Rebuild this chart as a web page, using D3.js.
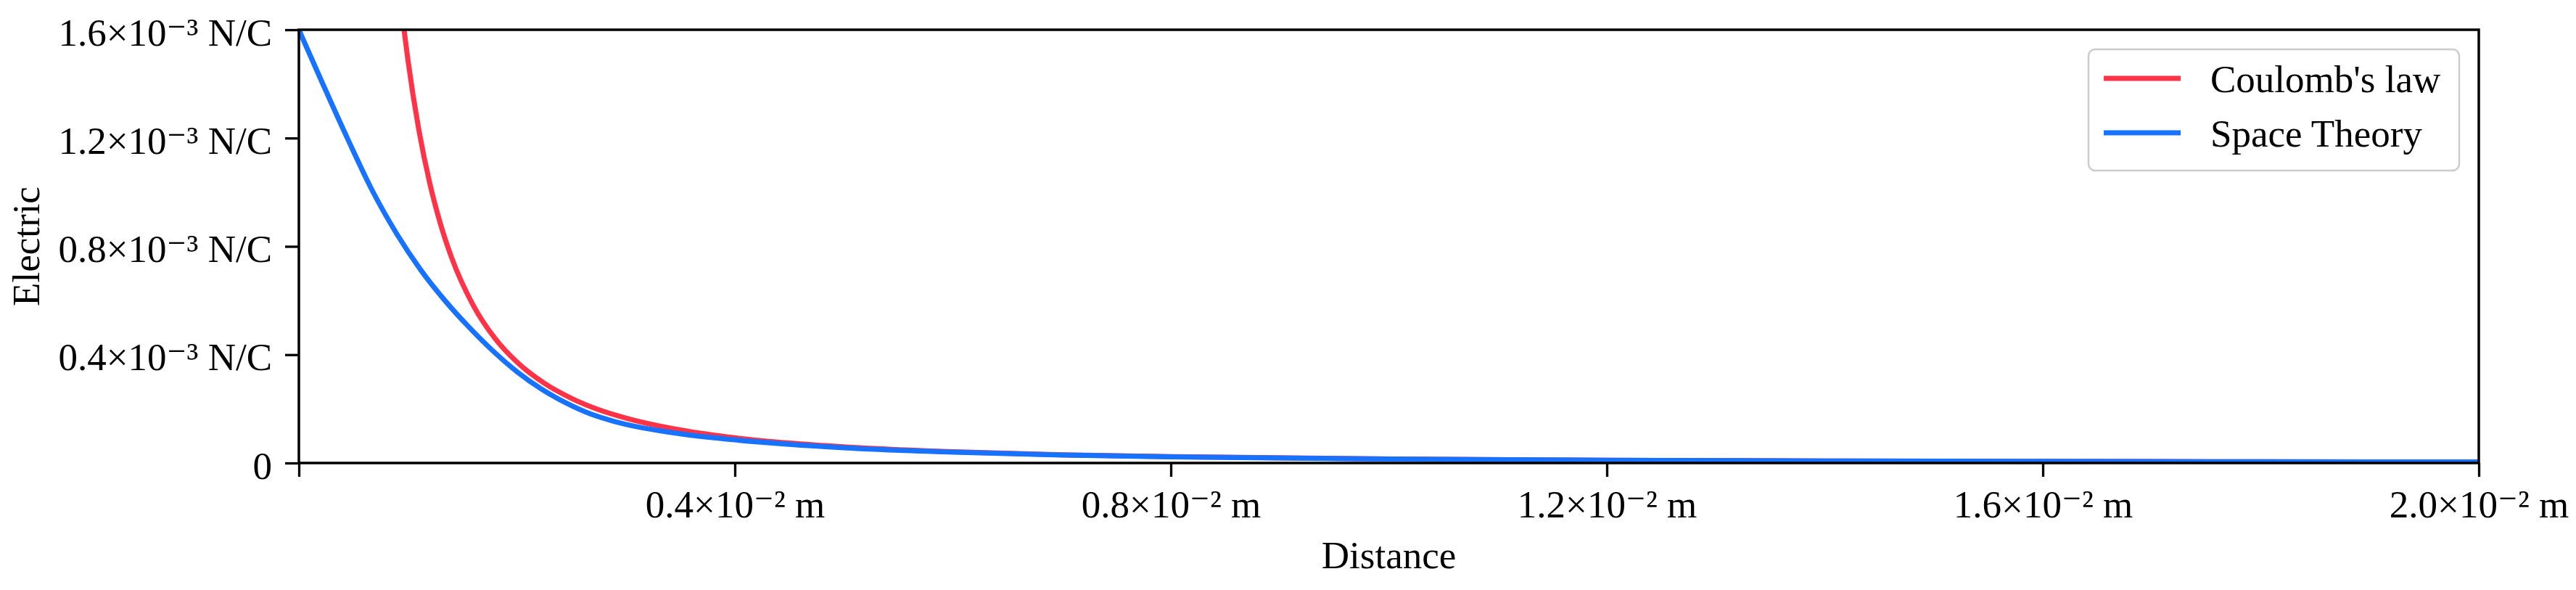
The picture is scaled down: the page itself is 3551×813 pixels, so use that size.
<!DOCTYPE html>
<html>
<head>
<meta charset="utf-8">
<script src="https://cdn.jsdelivr.net/npm/d3@7"></script>
<style>
  html, body { margin: 0; padding: 0; background: #ffffff; }
  svg { display: block; }
  text { font-family: "Liberation Serif", "Times New Roman", "DejaVu Serif", serif; fill: #000; }
</style>
</head>
<body>
<script>
// ---- Data (distance in 10^-2 m, field in 10^-3 N/C) ----
const seriesNames = ["Coulomb's law", "Space Theory"];
const seriesColors = ["#ff3348", "#1772ff"];

const coulombDistance = [0.0965, 0.100, 0.110, 0.120, 0.130, 0.140, 0.160, 0.180, 0.200, 0.225, 0.250, 0.275, 0.300, 0.350, 0.400, 0.450, 0.500, 0.600, 0.700, 0.800, 1.000, 1.200, 1.400, 1.600, 1.800, 2.000];
const coulombField    = [1.600, 1.490, 1.232, 1.035, 0.882, 0.760, 0.582, 0.460, 0.373, 0.295, 0.239, 0.197, 0.166, 0.122, 0.093, 0.0736, 0.0596, 0.0414, 0.0304, 0.0233, 0.0149, 0.0103, 0.0076, 0.0058, 0.0046, 0.0037];

const spaceDistance = [0.000, 0.0225, 0.045, 0.0675, 0.090, 0.112, 0.134, 0.156, 0.178, 0.2005, 0.223, 0.245, 0.267, 0.289, 0.3115, 0.350, 0.400, 0.450, 0.500, 0.600, 0.700, 0.800, 1.000, 1.200, 1.400, 1.600, 1.800, 2.000];
const spaceField    = [1.600, 1.395, 1.195, 1.005, 0.845, 0.712, 0.600, 0.502, 0.414, 0.336, 0.272, 0.222, 0.182, 0.154, 0.133, 0.108, 0.0855, 0.069, 0.0565, 0.0400, 0.0297, 0.0229, 0.0147, 0.0102, 0.0075, 0.0058, 0.0046, 0.0037];

const xTickValues = [0, 0.4, 0.8, 1.2, 1.6, 2.0];
const xTickLabels = ["", "0.4×10⁻² m", "0.8×10⁻² m", "1.2×10⁻² m", "1.6×10⁻² m", "2.0×10⁻² m"];
const yTickValues = [0, 0.4, 0.8, 1.2, 1.6];
const yTickLabels = ["0", "0.4×10⁻³ N/C", "0.8×10⁻³ N/C", "1.2×10⁻³ N/C", "1.6×10⁻³ N/C"];

const xLabel = "Distance";
const yLabel = "Electric";

// ---- Layout ----
const W = 3551, H = 813;
const plot = { left: 412, right: 3417, top: 41, bottom: 638 };
const fontSize = 53;

const svg = d3.select("body").append("svg").attr("width", W).attr("height", H);

const x = d3.scaleLinear().domain([0, 2.0]).range([plot.left, plot.right]);
const y = d3.scaleLinear().domain([0, 1.6]).range([plot.bottom, plot.top]);

// clip
svg.append("defs").append("clipPath").attr("id", "clip")
  .append("rect").attr("x", plot.left).attr("y", plot.top)
  .attr("width", plot.right - plot.left).attr("height", plot.bottom - plot.top);

// lines
const line = d3.line().x(d => x(d[0])).y(d => y(d[1])).curve(d3.curveMonotoneX);
const series = [
  d3.zip(coulombDistance, coulombField),
  d3.zip(spaceDistance, spaceField)
];
const g = svg.append("g").attr("clip-path", "url(#clip)");
series.forEach((s, i) => {
  g.append("path").datum(s).attr("d", line)
    .attr("fill", "none").attr("stroke", seriesColors[i])
    .attr("stroke-width", 7).attr("stroke-linejoin", "round").attr("stroke-linecap", "butt");
});

// axes
const xAxis = d3.axisBottom(x).tickValues(xTickValues)
  .tickFormat((d, i) => xTickLabels[i]).tickSize(19).tickSizeOuter(0).tickPadding(18);
const yAxis = d3.axisLeft(y).tickValues(yTickValues)
  .tickFormat((d, i) => yTickLabels[i]).tickSize(19).tickSizeOuter(0).tickPadding(18);

const gx = svg.append("g").attr("transform", `translate(0,${plot.bottom})`).call(xAxis);
const gy = svg.append("g").attr("transform", `translate(${plot.left},0)`).call(yAxis);
[gx, gy].forEach(ax => {
  ax.select(".domain").remove();
  ax.selectAll(".tick line").attr("stroke", "#000").attr("stroke-width", 3.3);
  ax.selectAll(".tick text").attr("font-size", fontSize)
    .attr("font-family", "Liberation Serif, Times New Roman, DejaVu Serif, serif").attr("fill", "#000");
});
gy.selectAll(".tick text").attr("dy", "0.4em");

// frame
svg.append("rect").attr("x", plot.left).attr("y", plot.top)
  .attr("width", plot.right - plot.left).attr("height", plot.bottom - plot.top)
  .attr("fill", "none").attr("stroke", "#000").attr("stroke-width", 3.5);

// axis labels
svg.append("text").attr("x", (plot.left + plot.right) / 2).attr("y", 783)
  .attr("text-anchor", "middle").attr("font-size", fontSize).text(xLabel);
svg.append("text").attr("transform", `translate(54,${(plot.top + plot.bottom) / 2}) rotate(-90)`)
  .attr("text-anchor", "middle").attr("font-size", fontSize).text(yLabel);

// legend
const lg = svg.append("g");
lg.append("rect").attr("x", 2879).attr("y", 68).attr("width", 511).attr("height", 167)
  .attr("rx", 9).attr("fill", "#ffffff").attr("fill-opacity", 0.8)
  .attr("stroke", "#cccccc").attr("stroke-width", 2.5);
seriesNames.forEach((name, i) => {
  const cy = 108 + i * 75;
  lg.append("line").attr("x1", 2900).attr("x2", 3006).attr("y1", cy).attr("y2", cy)
    .attr("stroke", seriesColors[i]).attr("stroke-width", 7);
  lg.append("text").attr("x", 3047).attr("y", 127 + i * 75)
    .attr("font-size", fontSize).text(name);
});
</script>
</body>
</html>
